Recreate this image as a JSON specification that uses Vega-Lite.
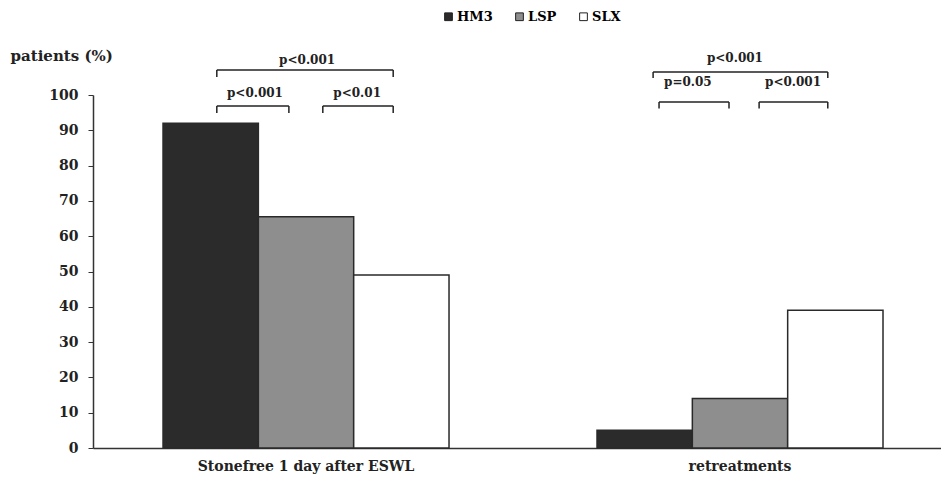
{
  "$schema": "https://vega.github.io/schema/vega-lite/v6.json",
  "width": 848,
  "height": 353,
  "autosize": {"type": "none"},
  "padding": {"left": 93, "top": 95, "right": 0, "bottom": 32},
  "background": "white",
  "config": {
    "view": {"stroke": null},
    "font": "DejaVu Serif",
    "axis": {"labelFont": "DejaVu Serif", "titleFont": "DejaVu Serif", "labelFontWeight": "bold", "titleFontWeight": "bold", "labelColor": "#222", "titleColor": "#222", "domainColor": "#333", "tickColor": "#333", "grid": false},
    "legend": {"labelFont": "DejaVu Serif", "labelFontWeight": "bold"}
  },
  "encoding": {
    "y": {"field": "value", "type": "quantitative",
      "scale": {"domain": [0, 100], "nice": false},
      "axis": {"title": "patients (%)", "titleAngle": 0, "titleX": -83, "titleY": -40, "titleAlign": "left", "titleBaseline": "middle", "titleFontSize": 15,
        "values": [0, 10, 20, 30, 40, 50, 60, 70, 80, 90, 100], "labelOverlap": false, "tickSize": 5, "labelFontSize": 14, "labelPadding": 10, "domainWidth": 1.5}}
  },
  "layer": [
    {
      "data": {"values": [
        {"group": "Stonefree 1 day after ESWL", "product": "HM3", "value": 92},
        {"group": "Stonefree 1 day after ESWL", "product": "LSP", "value": 65.5},
        {"group": "Stonefree 1 day after ESWL", "product": "SLX", "value": 49},
        {"group": "retreatments", "product": "HM3", "value": 5},
        {"group": "retreatments", "product": "LSP", "value": 14},
        {"group": "retreatments", "product": "SLX", "value": 39}
      ]},
      "mark": {"type": "bar", "stroke": "#2a2a2a", "strokeWidth": 1.5},
      "encoding": {
        "x": {"field": "group", "type": "nominal", "sort": null,
          "scale": {"paddingInner": 0.341, "paddingOuter": 0.1475, "align": 0.547},
          "axis": {"title": null, "labelAngle": 0, "ticks": false, "labelFontSize": 14, "labelPadding": 11, "domainWidth": 1.5, "labelLimit": 0, "labelOverlap": false}},
        "xOffset": {"field": "product", "type": "nominal", "sort": ["HM3", "LSP", "SLX"], "scale": {"paddingInner": 0, "paddingOuter": 0}},
        "color": {"field": "product", "type": "nominal", "sort": ["HM3", "LSP", "SLX"],
          "scale": {"domain": ["HM3", "LSP", "SLX"], "range": ["#2b2b2b", "#8e8e8e", "#ffffff"]},
          "legend": {"title": null, "orient": "none", "legendX": 349, "legendY": -85, "direction": "horizontal",
            "symbolType": "square", "symbolSize": 60, "symbolStrokeColor": "#222", "symbolStrokeWidth": 1, "symbolOpacity": 1,
            "labelFontSize": 13, "labelOffset": 2, "columnPadding": 20}}
      }
    },
    {
      "data": {"values": [
        {"x1": 0.292, "x2": 0.708, "value": 107.1, "value2": 107.1},
        {"x1": 0.292, "x2": 0.292, "value": 107.1, "value2": 105.1},
        {"x1": 0.708, "x2": 0.708, "value": 107.1, "value2": 105.1},
        {"x1": 0.292, "x2": 0.462, "value": 96.9, "value2": 96.9},
        {"x1": 0.292, "x2": 0.292, "value": 96.9, "value2": 94.9},
        {"x1": 0.462, "x2": 0.462, "value": 96.9, "value2": 94.9},
        {"x1": 0.542, "x2": 0.708, "value": 96.9, "value2": 96.9},
        {"x1": 0.542, "x2": 0.542, "value": 96.9, "value2": 94.9},
        {"x1": 0.708, "x2": 0.708, "value": 96.9, "value2": 94.9},
        {"x1": 1.321, "x2": 1.733, "value": 106.5, "value2": 106.5},
        {"x1": 1.321, "x2": 1.321, "value": 106.5, "value2": 104.8},
        {"x1": 1.733, "x2": 1.733, "value": 106.5, "value2": 104.8},
        {"x1": 1.335, "x2": 1.5, "value": 98.0, "value2": 98.0},
        {"x1": 1.335, "x2": 1.335, "value": 98.0, "value2": 96.2},
        {"x1": 1.5, "x2": 1.5, "value": 98.0, "value2": 96.2},
        {"x1": 1.571, "x2": 1.733, "value": 98.0, "value2": 98.0},
        {"x1": 1.571, "x2": 1.571, "value": 98.0, "value2": 96.2},
        {"x1": 1.733, "x2": 1.733, "value": 98.0, "value2": 96.2}
      ]},
      "mark": {"type": "rule", "color": "#222", "strokeWidth": 1.5},
      "encoding": {
        "x": {"field": "x1", "type": "quantitative", "scale": {"domain": [0, 2], "nice": false, "zero": false}, "axis": null},
        "x2": {"field": "x2"},
        "y2": {"field": "value2"}
      }
    },
    {
      "data": {"values": [
        {"x": 0.505, "value": 109.9, "label": "p<0.001"},
        {"x": 0.382, "value": 100.6, "label": "p<0.001"},
        {"x": 0.623, "value": 100.6, "label": "p<0.01"},
        {"x": 1.514, "value": 110.5, "label": "p<0.001"},
        {"x": 1.403, "value": 103.7, "label": "p=0.05"},
        {"x": 1.651, "value": 103.7, "label": "p<0.001"}
      ]},
      "mark": {"type": "text", "font": "DejaVu Serif", "fontWeight": "bold", "fontSize": 12, "color": "#222", "align": "center", "baseline": "middle"},
      "encoding": {
        "x": {"field": "x", "type": "quantitative", "scale": {"domain": [0, 2], "nice": false, "zero": false}, "axis": null},
        "text": {"field": "label"}
      }
    }
  ],
  "resolve": {"scale": {"x": "independent"}}
}
